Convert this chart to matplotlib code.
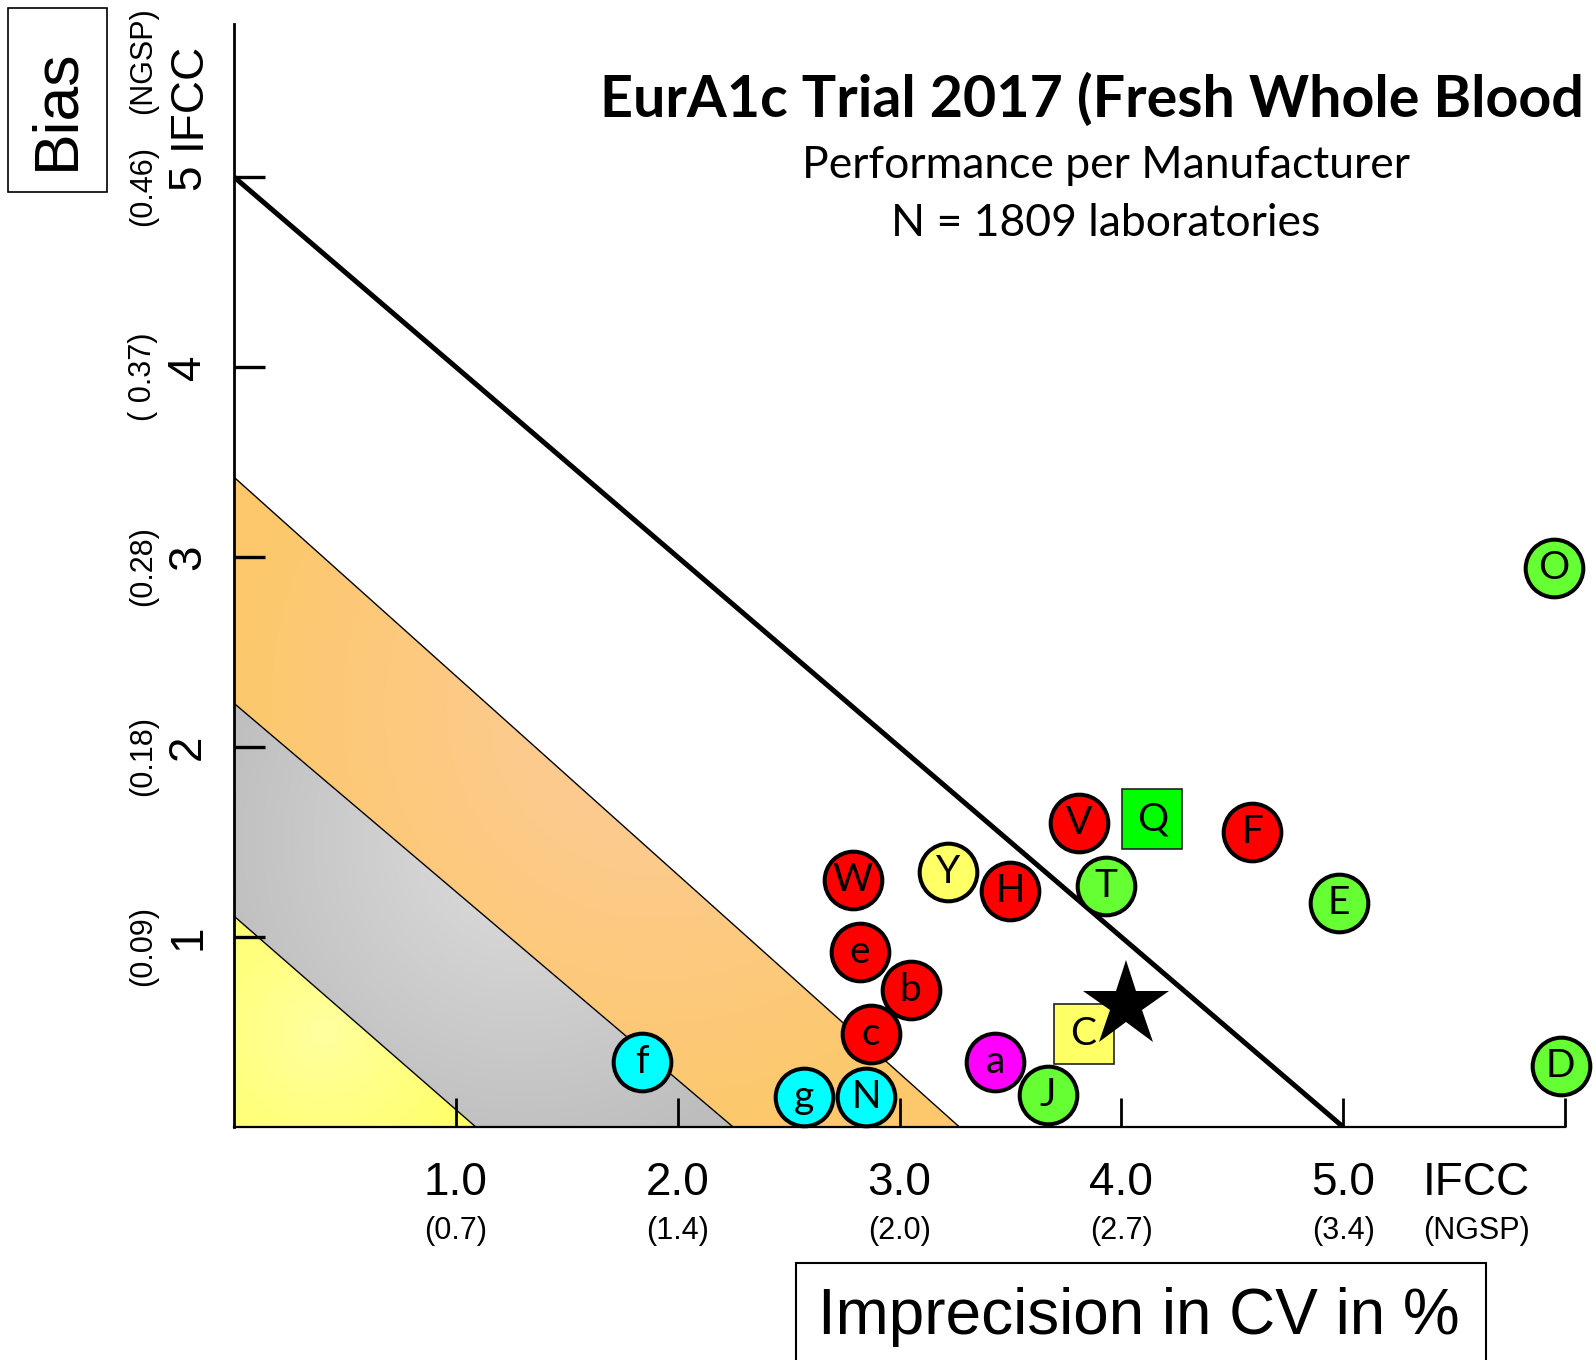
import numpy as np
import matplotlib
matplotlib.use('Agg')
import matplotlib.pyplot as plt
from matplotlib.patches import Polygon, Rectangle
from matplotlib import transforms
from matplotlib.colors import to_rgb

plt.rcParams['font.family'] = ['Liberation Sans', 'DejaVu Sans']

# manufacturer results: imprecision (CV %) and bias
labels = ['O', 'D', 'E', 'F', 'Q', 'V', 'T', 'Y', 'H', 'W', 'e', 'b', 'c', 'a', 'C', 'J', 'f', 'g', 'N']
cv = [5.95, 5.98, 4.98, 4.59, 4.14, 3.81, 3.93, 3.22, 3.50, 2.79, 2.82, 3.05, 2.87, 3.43, 3.83, 3.67, 1.84, 2.57, 2.85]
bias = [2.94, 0.32, 1.18, 1.55, 1.62, 1.60, 1.27, 1.34, 1.24, 1.30, 0.92, 0.72, 0.49, 0.34, 0.49, 0.17, 0.34, 0.16, 0.16]
colors = ['#66ff33', '#66ff33', '#66ff33', '#ff0000', '#00ff00', '#ff0000', '#66ff33', '#ffff66', '#ff0000',
          '#ff0000', '#ff0000', '#ff0000', '#ff0000', '#ff00ff', '#ffff66', '#66ff33', '#00ffff', '#00ffff', '#00ffff']
shapes = ['o', 'o', 'o', 'o', 's', 'o', 'o', 'o', 'o', 'o', 'o', 'o', 'o', 'o', 's', 'o', 'o', 'o', 'o']

# all-laboratory result (star)
star_cv = 4.02
star_bias = 0.64

# performance zones: intercept on the bias axis and on the CV axis
zone_bias = [1.11, 2.23, 3.42]
zone_cv = [1.09, 2.25, 3.27]
limit_bias = 5.0
limit_cv = 5.0

xticks = [1, 2, 3, 4, 5, 6]
x_ifcc = ['1.0', '2.0', '3.0', '4.0', '5.0']
x_ngsp = ['(0.7)', '(1.4)', '(2.0)', '(2.7)', '(3.4)']
yticks = [1, 2, 3, 4, 5]
y_ifcc = ['1', '2', '3', '4', '5']
y_ngsp = ['(0.09)', '(0.18)', '(0.28)', '( 0.37)', '(0.46)']

W, H = 1595, 1360
fig = plt.figure(figsize=(W / 100, H / 100), dpi=100)
ax = fig.add_axes([234 / W, 1 - 1127 / H, (1565 - 234) / W, (1127 - 24) / H])
XMAX, YMAX = 6.0, 5.805
px_x = (1565 - 234) / XMAX
px_y = (1127 - 24) / YMAX


def gradient_fill(verts, center, radius, inner, outer):
    xs = np.linspace(0, XMAX, 600)
    ys = np.linspace(0, YMAX, 580)
    X, Y = np.meshgrid(xs, ys)
    d = np.hypot((X - center[0]) * px_x, (Y - center[1]) * px_y) / radius
    t = np.clip(d, 0, 1)[..., None]
    img = np.array(to_rgb(inner)) * (1 - t) + np.array(to_rgb(outer)) * t
    poly = Polygon(verts, closed=True, facecolor='none', edgecolor='none')
    ax.add_patch(poly)
    im = ax.imshow(img, extent=(0, XMAX, 0, YMAX), origin='lower', aspect='auto', zorder=1)
    im.set_clip_path(poly)


yb, gb, ob = zone_bias
yc, gc, oc = zone_cv
gradient_fill([(0, 0), (0, yb), (yc, 0)], (0.4, 0.5), 170, '#ffffa0', '#ffff66')
gradient_fill([(0, yb), (0, gb), (gc, 0), (yc, 0)], (1.3, 1.5), 330, '#dedede', '#bdbdbd')
gradient_fill([(0, gb), (0, ob), (oc, 0), (gc, 0)], (1.9, 2.2), 420, '#fccc9c', '#fdc86c')

for b, c in zip(zone_bias, zone_cv):
    ax.plot([0, c], [b, 0], color='black', lw=1.0, zorder=2)
ax.plot([0, limit_cv], [limit_bias, 0], color='black', lw=3.6, zorder=3, solid_capstyle='butt')

for i, (lab, x, y, c, m) in enumerate(zip(labels, cv, bias, colors, shapes)):
    z = 4 + 0.02 * i
    if m == 's':
        ax.plot(x, y, marker='s', ms=43, mfc=c, mec='#222222', mew=1.2, clip_on=False, zorder=z)
    else:
        ax.plot(x, y, marker='o', ms=41.5, mfc=c, mec='black', mew=2.9, clip_on=False, zorder=z)
    ax.text(x, y, lab, ha='center', va='center', fontsize=28, family=['Lato', 'DejaVu Sans'],
            zorder=z + 0.01, clip_on=False)
    if lab == 'C':
        ax.plot(star_cv, star_bias, marker='*', ms=65, color='black', mec='black', mew=0,
                clip_on=False, zorder=z + 0.015)

ax.set_xlim(0, XMAX)
ax.set_ylim(0, YMAX)
for s in ['top', 'right']:
    ax.spines[s].set_visible(False)
ax.spines['left'].set_linewidth(2.0)
ax.spines['bottom'].set_linewidth(1.6)
ax.spines['left'].set_zorder(6)
ax.spines['bottom'].set_zorder(6)
ax.set_xticks(xticks)
ax.set_yticks(yticks)
ax.set_xticklabels([])
ax.set_yticklabels([])
ax.tick_params(axis='x', direction='in', length=21, width=2.0)
ax.tick_params(axis='y', direction='in', length=22, width=2.4)
ax.set_facecolor('white')

# x tick labels
tx = transforms.blended_transform_factory(ax.transData, fig.transFigure)
for v, a, b in zip(xticks, x_ifcc, x_ngsp):
    ax.text(v, 1 - 1183 / H, a, transform=tx, ha='center', va='center', fontsize=33)
    ax.text(v, 1 - 1231 / H, b, transform=tx, ha='center', va='center', fontsize=22)
ax.text(5.6, 1 - 1183 / H, 'IFCC', transform=tx, ha='center', va='center', fontsize=33)
ax.text(5.6, 1 - 1231 / H, '(NGSP)', transform=tx, ha='center', va='center', fontsize=22)

# y tick labels
ty = transforms.blended_transform_factory(fig.transFigure, ax.transData)
for v, a, b in zip(yticks, y_ifcc, y_ngsp):
    ax.text(188 / W, v, a, transform=ty, ha='center', va='center', rotation=90, fontsize=33)
    ax.text(143 / W, v - 0.05, b, transform=ty, ha='center', va='center', rotation=90, fontsize=22)
ax.text(188 / W, 5.43, 'IFCC', transform=ty, ha='center', va='center', rotation=90, fontsize=33)
ax.text(143 / W, 5.61, '(NGSP)', transform=ty, ha='center', va='center', rotation=90, fontsize=22)

# boxed axis titles
fig.patches.append(Rectangle((8 / W, 1 - 192 / H), 99 / W, 184 / H, transform=fig.transFigure,
                             facecolor='none', edgecolor='black', lw=1.2))
fig.text(57 / W, 1 - 109 / H, 'Bias', ha='center', va='center', rotation=90, fontsize=45)
fig.patches.append(Rectangle((796 / W, -0.02), 690 / W, 0.02 + 97 / H, transform=fig.transFigure,
                             facecolor='none', edgecolor='black', lw=1.5))
fig.text(1139 / W, 1 - 1334 / H, 'Imprecision in CV in %', ha='center', va='baseline', fontsize=46)

# title block
fig.text(600 / W, 1 - 117 / H, 'EurA1c Trial 2017 (Fresh Whole Blood', ha='left', va='baseline',
         fontsize=41.3, fontweight='bold', family=['Lato', 'DejaVu Sans'])
fig.text(1106 / W, 1 - 178 / H, 'Performance per Manufacturer', ha='center', va='baseline',
         fontsize=32, family=['Lato', 'DejaVu Sans'])
fig.text(1106 / W, 1 - 236 / H, 'N = 1809 laboratories', ha='center', va='baseline',
         fontsize=32, family=['Lato', 'DejaVu Sans'])

fig.savefig('out.png', dpi=100, facecolor='white')
